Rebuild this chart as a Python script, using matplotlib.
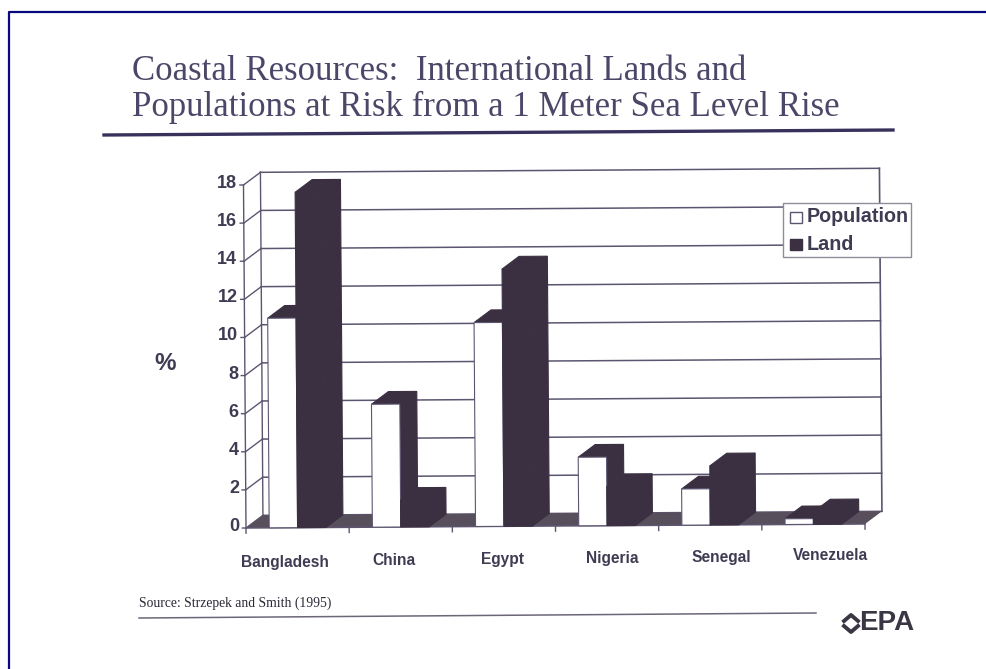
import matplotlib
matplotlib.use('Agg')
import matplotlib.pyplot as plt
from matplotlib.lines import Line2D
from matplotlib.patches import Polygon, Rectangle
from matplotlib.transforms import Affine2D

countries = ['Bangladesh', 'China', 'Egypt', 'Nigeria', 'Senegal', 'Venezuela']
population = [11.0, 6.45, 10.7, 3.6, 1.9, 0.3]
land = [17.6, 1.4, 13.5, 2.05, 3.1, 0.65]
y_ticks = [0, 2, 4, 6, 8, 10, 12, 14, 16, 18]

W, H = 986, 669
DARK = '#3a3042'
FLOOR = '#57505c'
GRID = '#5d5570'
TEXT = '#3f3b52'
NAVY = '#0a0a80'

# oblique depth of the 3d look, in data units
dx, dy = 0.165, 0.66
bar_w = 0.275
bar_start = 0.225

fig = plt.figure(figsize=(W / 100, H / 100), dpi=100, facecolor='white')
ax = fig.add_axes([246 / W, 1 - 528 / H, 619 / W, 343 / H])
ax.set_xlim(0, 6)
ax.set_ylim(0, 18)
ax.set_axis_off()

# the slide sits slightly crooked on the page
tilted = Affine2D.from_values(1, 0.035, -0.00135, 1, 0, 0) + ax.transData
# overlay coordinates for the slide furniture, origin top left
px = Affine2D().scale(1 / W, -1 / H).translate(0, 1) + fig.transFigure


def line(xs, ys, lw=1.0, color=GRID, z=1):
    ax.add_line(Line2D(xs, ys, lw=lw, color=color, transform=tilted, zorder=z,
                       clip_on=False))


def poly(pts, face, edge='none', lw=0.8, z=3):
    ax.add_patch(Polygon(pts, closed=True, facecolor=face, edgecolor=edge, lw=lw,
                         transform=tilted, zorder=z, clip_on=False))


def bar3d(left, h, front):
    right = left + bar_w
    poly([(right, 0), (right + dx, dy), (right + dx, h + dy), (right, h)], DARK, edge=DARK)
    poly([(left, h), (left + dx, h + dy), (right + dx, h + dy), (right, h)], DARK, edge=DARK)
    edge = GRID if front == 'white' else DARK
    poly([(left, 0), (right, 0), (right, h), (left, h)], front, edge=edge)


# walls and floor
for t in y_ticks:
    line([dx, 6 + dx], [t + dy, t + dy], lw=1.1)
    line([0, dx], [t, t + dy])
    line([-0.035, 0], [t, t])
line([0, 0], [0, 18])
line([dx, dx], [dy, 18 + dy])
line([6 + dx, 6 + dx], [dy, 18 + dy], lw=1.2)
poly([(0, 0), (6, 0), (6 + dx, dy), (dx, dy)], FLOOR, z=2)
line([0, 6], [0, 0], lw=1.1, z=2)
for i in range(7):
    line([i, i], [0, -0.27], z=2)

# bars, back to front within each group
for i in range(len(countries)):
    bar3d(i + bar_start, population[i], 'white')
    bar3d(i + bar_start + bar_w, land[i], DARK)

for t in y_ticks:
    ax.text(-0.065, t + 0.08, str(t), ha='right', va='center', transform=tilted,
            family='Liberation Sans', weight='bold', fontsize=13, color=TEXT)

# category labels are spaced a bit wider than the bars
for i, name in enumerate(countries):
    fig.text(285 + 109 * i, 562 - 1.2 * i, name, ha='center', va='center', transform=px,
             family='Liberation Sans', weight='bold', fontsize=11.2, color=TEXT)

fig.text(165, 364, '%', ha='center', va='center', transform=px,
         family='Liberation Sans', weight='bold', fontsize=17.5, color=TEXT)

# legend box
fig.add_artist(Rectangle((783, 203), 128, 54, facecolor='white', edgecolor='#8f8a9c', lw=1,
                         transform=px, zorder=5))
fig.add_artist(Rectangle((790, 212), 12, 11, facecolor='white', edgecolor=GRID, lw=1,
                         transform=px, zorder=6))
fig.add_artist(Rectangle((790, 239), 12, 11, facecolor=DARK, edgecolor=DARK, lw=1,
                         transform=px, zorder=6))
fig.text(807, 217, 'Population', ha='left', va='center', transform=px, zorder=6,
         family='Liberation Sans', weight='bold', fontsize=14.2, color=TEXT)
fig.text(807, 244, 'Land', ha='left', va='center', transform=px, zorder=6,
         family='Liberation Sans', weight='bold', fontsize=14.2, color=TEXT)

# title block
fig.text(132, 80, 'Coastal Resources:  International Lands and', ha='left', va='baseline',
         transform=px, family='Liberation Serif', fontsize=25, color='#4b4768')
fig.text(132, 116, 'Populations at Risk from a 1 Meter Sea Level Rise', ha='left', va='baseline',
         transform=px, family='Liberation Serif', fontsize=25, color='#4b4768')
fig.add_artist(Line2D([104, 893], [135, 130], lw=2.4, color='#37325c', transform=px))

# footer
fig.text(139, 603, 'Source: Strzepek and Smith (1995)', ha='left', va='center', transform=px,
         family='Liberation Serif', fontsize=9.8, color='#2c2838')
fig.add_artist(Line2D([139, 816], [618, 613], lw=1.1, color='#6d6678', transform=px))
fig.text(859, 623, 'EPA', ha='left', va='center', transform=px,
         family='Liberation Sans', weight='bold', fontsize=20, color='#3a3644')
fig.add_artist(Line2D([844, 851, 858], [621, 615, 621], lw=2.8, color='#3a3644', transform=px))
fig.add_artist(Line2D([844, 851, 858], [626, 632, 626], lw=2.8, color='#3a3644', transform=px))

# page border
fig.add_artist(Line2D([9, 9, W], [H, 12, 12], lw=1.6, color=NAVY, transform=px))

fig.savefig('out.png', dpi=100)
